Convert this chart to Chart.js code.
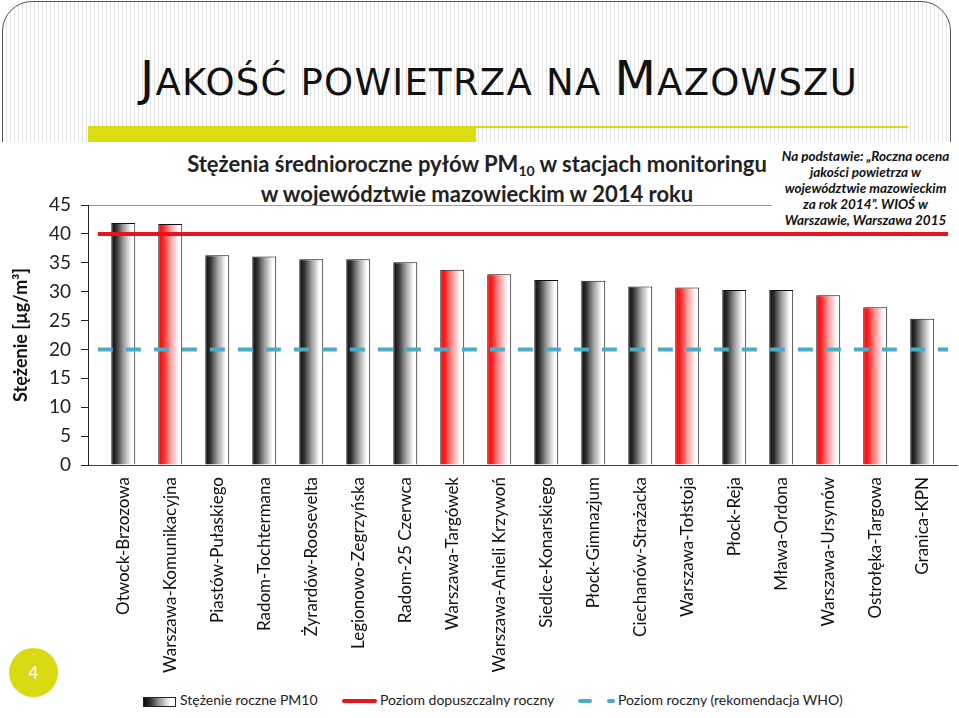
<!DOCTYPE html>
<html>
<head>
<meta charset="utf-8">
<script src="https://cdn.jsdelivr.net/npm/chart.js@4.4.0/dist/chart.umd.min.js"></script>
<style>
  body { margin: 0; width: 959px; height: 718px; position: relative; overflow: hidden; background: #fff; font-family: Lato, "Open Sans", sans-serif; }
  #frame { position: absolute; left: 2px; top: 1px; width: 947px; height: 170px; border: 1.5px solid #555; border-radius: 30px 30px 0 0;
           background: repeating-linear-gradient(90deg, #fff 0 3px, #e4e4e4 3px 4px); }
  #heading { position: absolute; left: 140px; top: 54px; font-family: "DejaVu Sans", sans-serif; font-size: 48px; line-height: 1; color: #111; white-space: nowrap; }
  #heading .sc { font-size: 37px; }
  #accent { position: absolute; left: 88px; top: 126px; width: 388px; height: 20px; background: #dcdc12; }
  #accentLine { position: absolute; left: 476px; top: 126px; width: 432px; height: 2px; background: #dcdc12; }
  #sheet { position: absolute; left: 0; top: 142px; width: 959px; height: 576px; background: #fff; }
  #chartTitle { position: absolute; left: 0; top: 149px; width: 954px; text-align: center; font-weight: bold; font-size: 22px; line-height: 30px; color: #222; }
  #chartTitle sub { font-size: 14px; vertical-align: -4px; line-height: 0; }
  #wrap { position: absolute; left: 0; top: 142px; width: 959px; height: 545px; }
  #note { position: absolute; left: 772px; top: 142px; width: 187px; height: 87px; background: #fff; text-align: center;
          font-weight: bold; font-style: italic; font-size: 13.5px; line-height: 16px; color: #111; padding-top: 6px; box-sizing: border-box; }
  #legend { position: absolute; left: 0; top: 690px; width: 959px; height: 22px; font-size: 14px; color: #222; }
  #legend span { position: absolute; }
  .txt { top: 1px; white-space: nowrap; }
  #pageNo { position: absolute; left: 9px; top: 648px; width: 49px; height: 49px; border-radius: 50%; background: #d8da12;
            color: #fff; font-size: 17px; line-height: 49px; text-align: center; }
</style>
</head>
<body>
<div id="frame"></div>
<div id="heading">J<span class="sc">AKOŚĆ POWIETRZA NA </span>M<span class="sc">AZOWSZU</span></div>
<div id="accent"></div>
<div id="accentLine"></div>
<div id="sheet"></div>
<div id="chartTitle">Stężenia średnioroczne pyłów PM<sub>10</sub> w stacjach monitoringu<br>w województwie mazowieckim w 2014 roku</div>
<div id="wrap"><canvas id="pm10Chart"></canvas></div>
<div id="note">Na podstawie: „Roczna ocena<br>jakości powietrza w<br>województwie mazowieckim<br>za rok 2014”. WIOŚ w<br>Warszawie, Warszawa 2015</div>
<div id="legend"></div>
<div id="pageNo">4</div>
<script>
  const stations = ['Otwock-Brzozowa', 'Warszawa-Komunikacyjna', 'Piastów-Pułaskiego', 'Radom-Tochtermana',
    'Żyrardów-Roosevelta', 'Legionowo-Zegrzyńska', 'Radom-25 Czerwca', 'Warszawa-Targówek',
    'Warszawa-Anieli Krzywoń', 'Siedlce-Konarskiego', 'Płock-Gimnazjum', 'Ciechanów-Strażacka',
    'Warszawa-Tołstoja', 'Płock-Reja', 'Mława-Ordona', 'Warszawa-Ursynów', 'Ostrołęka-Targowa', 'Granica-KPN'];
  const pm10 = [41.9, 41.7, 36.3, 36.1, 35.6, 35.6, 35.1, 33.8, 33.0, 32.0, 31.9, 30.9, 30.7, 30.3, 30.3, 29.4, 27.3, 25.3];
  const redBar = [false, true, false, false, false, false, false, true, true, false, false, false, true, false, false, true, true, false];
  const seriesNames = ['Stężenie roczne PM10', 'Poziom dopuszczalny roczny', 'Poziom roczny (rekomendacja WHO)'];
  const limitAnnual = 40;
  const whoAnnual = 20;
  const refLineSpan = [-0.54, 17.55];  // x range of the two reference lines (category units)

  const FONT = 'Lato';
  const BAR_PCT = 0.51;

  // fit heading to its width in the slide
  const head = document.getElementById('heading');
  const w0 = head.getBoundingClientRect().width;
  head.style.letterSpacing = ((718 - w0) / head.textContent.length) + 'px';

  function barFill(ctx) {
    if (ctx.type !== 'data') return '#888';
    const red = redBar[ctx.dataIndex];
    const chart = ctx.chart, xs = chart.scales.x;
    if (!xs || !chart.chartArea) return red ? '#f55' : '#777';
    const cx = xs.getPixelForValue(ctx.dataIndex);
    const half = (xs.getPixelForValue(1) - xs.getPixelForValue(0)) * BAR_PCT / 2;
    const g = chart.ctx.createLinearGradient(cx - half, 0, cx + half, 0);
    if (red) {
      g.addColorStop(0, '#ff0000'); g.addColorStop(0.2, '#ff2020');
      g.addColorStop(0.5, '#ff9a9a'); g.addColorStop(0.85, '#ffffff'); g.addColorStop(1, '#ffffff');
    } else {
      g.addColorStop(0, '#0d0d0d'); g.addColorStop(0.2, '#2e2e2e');
      g.addColorStop(0.5, '#9a9a9a'); g.addColorStop(0.85, '#ffffff'); g.addColorStop(1, '#ffffff');
    }
    return g;
  }

  new Chart('pm10Chart', {
    data: {
      datasets: [
        {
          type: 'line', label: seriesNames[1],
          data: refLineSpan.map(x => ({ x: x, y: limitAnnual })),
          borderColor: '#e8131b', borderWidth: 4, pointRadius: 0, clip: false, order: 0
        },
        {
          type: 'line', label: seriesNames[2],
          data: refLineSpan.map(x => ({ x: x, y: whoAnnual })),
          borderColor: '#4bacc6', borderWidth: 4, borderDash: [15, 13], pointRadius: 0, clip: false, order: 0
        },
        {
          type: 'bar', label: seriesNames[0],
          data: pm10.map((v, i) => ({ x: i, y: v })),
          backgroundColor: barFill, borderColor: '#111', borderWidth: 1,
          categoryPercentage: 1, barPercentage: BAR_PCT, order: 1
        }
      ]
    },
    options: {
      animation: false,
      responsive: true,
      maintainAspectRatio: false,
      layout: { padding: { top: 63, right: 2, left: 0, bottom: 0 } },
      plugins: { legend: { display: false }, tooltip: { enabled: false }, title: { display: false } },
      scales: {
        x: {
          type: 'linear', min: -0.75, max: 17.74, offset: false,
          afterBuildTicks: s => { s.ticks = stations.map((_, i) => ({ value: i })); },
          afterFit: s => { s.height = 222; },
          grid: { display: false, drawTicks: false, offset: false },
          border: { color: '#444', width: 1 },
          ticks: {
            autoSkip: false, minRotation: 90, maxRotation: 90, padding: 12,
            font: { family: FONT, size: 17 }, color: '#111',
            callback: v => stations[v]
          }
        },
        y: {
          min: 0, max: 45,
          afterFit: s => { s.width = 88; },
          ticks: { stepSize: 5, padding: 10, font: { family: FONT, size: 19 }, color: '#222' },
          grid: {
            color: c => (c.tick && c.tick.value === 45) ? '#9a9a9a' : 'rgba(0,0,0,0)',
            tickColor: '#222', tickLength: 7
          },
          border: { color: '#222', width: 1 },
          title: { display: true, text: 'Stężenie [µg/m³]', font: { family: FONT, size: 18, weight: 'bold' }, color: '#111', padding: { top: 10, bottom: 0 } }
        }
      }
    }
  });

  // legend below the chart
  const lg = document.getElementById('legend');
  lg.innerHTML =
    '<span style="left:143px;top:7px;width:31px;height:8px;border:1px solid #222;background:linear-gradient(90deg,#0d0d0d,#2e2e2e 20%,#9a9a9a 50%,#fff 85%)"></span>' +
    '<span class="txt" style="left:180px">' + seriesNames[0] + '</span>' +
    '<span style="left:342px;top:9px;width:35px;height:4px;border-radius:2px;background:#e8131b"></span>' +
    '<span class="txt" style="left:380px">' + seriesNames[1] + '</span>' +
    '<span style="left:578px;top:9px;width:14px;height:4px;border-radius:2px;background:#4bacc6"></span>' +
    '<span style="left:607px;top:9px;width:8px;height:4px;border-radius:2px;background:#4bacc6"></span>' +
    '<span class="txt" style="left:618px">' + seriesNames[2] + '</span>';
</script>
</body>
</html>
